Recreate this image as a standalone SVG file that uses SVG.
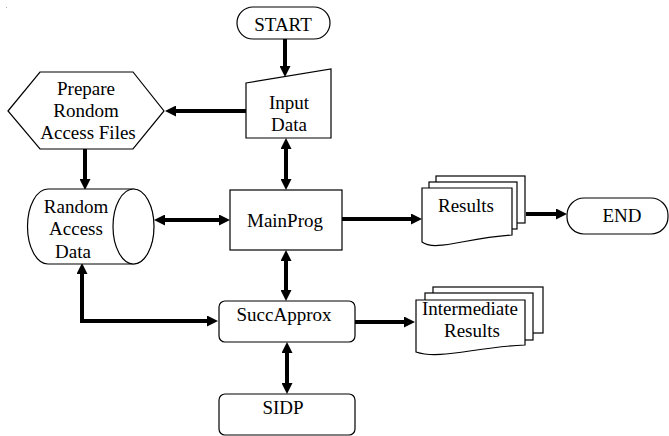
<svg xmlns="http://www.w3.org/2000/svg" width="669" height="436" viewBox="0 0 669 436">
<style>
.n{fill:#fff;stroke:#000;stroke-width:1.2}
.t{font-family:"Liberation Serif","Times New Roman",serif;font-size:19px;fill:#000;text-anchor:middle}
.c{fill:none;stroke:#000;stroke-width:4}
</style>
<defs>
<marker id="ah" markerUnits="userSpaceOnUse" markerWidth="11" markerHeight="11" refX="3" refY="5.5" orient="auto-start-reverse">
<path d="M0,0 L11,5.5 L0,11 z" fill="#000"/>
</marker>
</defs>
<rect x="6" y="7" width="1" height="1" fill="#aaa"/>
<g id="connectors">
<line class="c" x1="285" y1="39" x2="285" y2="69" marker-end="url(#ah)"/>
<line class="c" x1="246" y1="111" x2="173" y2="111" marker-end="url(#ah)"/>
<line class="c" x1="85" y1="149" x2="85" y2="182" marker-end="url(#ah)"/>
<line class="c" x1="162" y1="220" x2="222" y2="220" marker-start="url(#ah)" marker-end="url(#ah)"/>
<line class="c" x1="286" y1="146" x2="286" y2="182" marker-start="url(#ah)" marker-end="url(#ah)"/>
<line class="c" x1="286" y1="258" x2="286" y2="293" marker-start="url(#ah)" marker-end="url(#ah)"/>
<line class="c" x1="342" y1="219" x2="414" y2="219" marker-end="url(#ah)"/>
<line class="c" x1="526" y1="214" x2="559" y2="214" marker-end="url(#ah)"/>
<line class="c" x1="355" y1="322" x2="407" y2="322" marker-end="url(#ah)"/>
<line class="c" x1="287" y1="350" x2="287" y2="386" marker-start="url(#ah)" marker-end="url(#ah)"/>
<path class="c" d="M82,271 L82,321 L210,321" marker-start="url(#ah)" marker-end="url(#ah)"/>
</g>
<g id="start">
<rect class="n" x="237" y="7" width="93" height="32" rx="16"/>
<text class="t" x="283" y="31">START</text>
</g>
<g id="input-data">
<polygon class="n" points="246,83 331,69 331,138 246,138"/>
<text class="t" x="289" y="109">Input</text>
<text class="t" x="289" y="131">Data</text>
</g>
<g id="prepare">
<polygon class="n" points="8,111 40,72 133,72 164,111 133,149 40,149"/>
<text class="t" x="86" y="95">Prepare</text>
<text class="t" x="86" y="117">Rondom</text>
<text class="t" x="88" y="139">Access Files</text>
</g>
<g id="random-access-data">
<path class="n" d="M48,189 L133,189 A20.5,37.5 0 0 1 133,264 L48,264 A20.5,37.5 0 0 1 48,189 Z"/>
<ellipse class="n" cx="133.5" cy="226.5" rx="20.5" ry="37.5"/>
<text class="t" x="76" y="213">Random</text>
<text class="t" x="76" y="235">Access</text>
<text class="t" x="73" y="258">Data</text>
</g>
<g id="mainprog">
<rect class="n" x="230" y="190" width="112" height="60"/>
<text class="t" x="285" y="227">MainProg</text>
</g>
<g id="results">
<rect class="n" x="436" y="176" width="89" height="47"/>
<rect class="n" x="429" y="182" width="88" height="47"/>
<path class="n" d="M422,188 L512,188 L512,235 C465,238 435,252 422,242 Z"/>
<text class="t" x="466" y="212">Results</text>
</g>
<g id="end">
<rect class="n" x="567" y="198" width="101" height="36" rx="17"/>
<text class="t" x="622" y="222">END</text>
</g>
<g id="succapprox">
<rect class="n" x="219" y="301" width="136" height="41" rx="6"/>
<text class="t" x="284" y="321">SuccApprox</text>
</g>
<g id="intermediate-results">
<rect class="n" x="433" y="287" width="110" height="46"/>
<rect class="n" x="425" y="293" width="108" height="47"/>
<path class="n" d="M416,300 L525,300 L525,345 C475,347 440,360 416,352 Z"/>
<text class="t" x="470" y="315">Intermediate</text>
<text class="t" x="472" y="337">Results</text>
</g>
<g id="sidp">
<rect class="n" x="219" y="394" width="136" height="41" rx="6"/>
<text class="t" x="283" y="414">SIDP</text>
</g>
</svg>
